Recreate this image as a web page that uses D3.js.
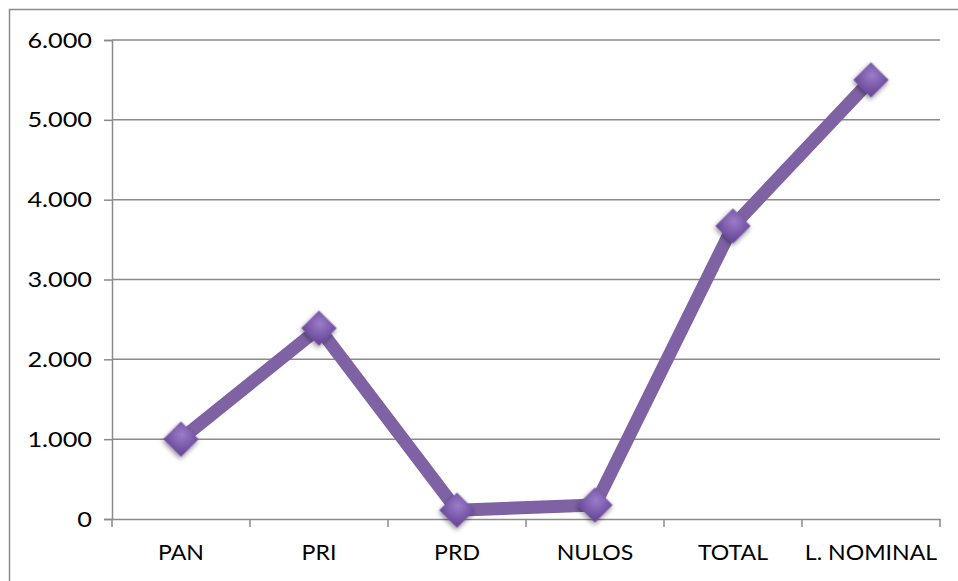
<!DOCTYPE html>
<html><head><meta charset="utf-8">
<script src="https://cdn.jsdelivr.net/npm/d3@7"></script>
<style>html,body{margin:0;padding:0;background:#fff;}svg{display:block;}</style>
</head><body>
<script>
const categories = ["PAN", "PRI", "PRD", "NULOS", "TOTAL", "L. NOMINAL"];
const values = [1000, 2390, 110, 175, 3670, 5500];
const yTicks = [0, 1000, 2000, 3000, 4000, 5000, 6000];
const yTickLabels = ["0", "1.000", "2.000", "3.000", "4.000", "5.000", "6.000"];

const W = 958, H = 581;
const m = {left: 112, right: 18, top: 40, bottom: 62};
const svg = d3.select("body").append("svg").attr("width", W).attr("height", H);

const defs = svg.append("defs");
const grad = defs.append("radialGradient").attr("id", "mg").attr("cx", "40%").attr("cy", "35%").attr("r", "70%");
grad.append("stop").attr("offset", "0%").attr("stop-color", "#9a7cc8");
grad.append("stop").attr("offset", "100%").attr("stop-color", "#6c4b9c");
const f = defs.append("filter").attr("id", "sh").attr("x", "-50%").attr("y", "-50%").attr("width", "200%").attr("height", "200%");
f.append("feDropShadow").attr("dx", 1).attr("dy", 2).attr("stdDeviation", 2.5).attr("flood-color", "#000").attr("flood-opacity", 0.45);

svg.append("rect").attr("x", 9.5).attr("y", 9.5).attr("width", W).attr("height", H)
  .attr("fill", "none").attr("stroke", "#8c8c8c").attr("stroke-width", 1.5);

const x = d3.scaleBand().domain(categories).range([m.left, W - m.right]);
const y = d3.scaleLinear().domain([0, 6000]).range([H - m.bottom, m.top]);

// gridlines
svg.append("g").selectAll("line").data(yTicks.slice(1)).join("line")
  .attr("x1", m.left).attr("x2", W - m.right)
  .attr("y1", d => y(d)).attr("y2", d => y(d))
  .attr("stroke", "#8a8a8a").attr("stroke-width", 1.5);

// y axis
const ya = svg.append("g").attr("transform", `translate(${m.left},0)`)
  .call(d3.axisLeft(y).tickValues(yTicks).tickFormat((d, i) => yTickLabels[i]).tickSize(8).tickPadding(12));
ya.select(".domain").attr("stroke", "#8a8a8a").attr("stroke-width", 1.5);
ya.selectAll(".tick line").attr("stroke", "#8a8a8a").attr("stroke-width", 1.5);
ya.selectAll("text").attr("font-family", "Lato, Carlito, sans-serif").attr("font-size", 22).attr("fill", "#000")
  .attr("x", 0).attr("transform", "translate(-20,0) scale(1.15,1)");

// x axis
const xa = svg.append("g").attr("transform", `translate(0,${H - m.bottom})`)
  .call(d3.axisBottom(x).tickSize(0).tickPadding(26));
xa.select(".domain").attr("stroke", "#8a8a8a").attr("stroke-width", 1.5);
xa.selectAll("text").attr("font-family", "Lato, Carlito, sans-serif").attr("font-size", 21).attr("fill", "#000")
  .attr("transform", "scale(1.1,1)");
// category boundary ticks
const bounds = categories.map(c => x(c)).concat([x(categories[categories.length - 1]) + x.bandwidth()]);
svg.append("g").selectAll("line").data(bounds).join("line")
  .attr("x1", d => d).attr("x2", d => d)
  .attr("y1", H - m.bottom).attr("y2", H - m.bottom + 8)
  .attr("stroke", "#8a8a8a").attr("stroke-width", 1.5);

// line
const cx = (d, i) => x(categories[i]) + x.bandwidth() / 2;
svg.append("path").datum(values)
  .attr("d", d3.line().x(cx).y(d => y(d)))
  .attr("fill", "none").attr("stroke", "#7f62a3").attr("stroke-width", 13)
  .attr("stroke-linejoin", "round");

// markers
const s = 25;
svg.append("g").selectAll("rect").data(values).join("rect")
  .attr("x", -s / 2).attr("y", -s / 2).attr("width", s).attr("height", s)
  .attr("transform", (d, i) => `translate(${cx(d, i)},${y(d)}) rotate(45)`)
  .attr("fill", "url(#mg)").attr("filter", "url(#sh)");
</script>
</body></html>
